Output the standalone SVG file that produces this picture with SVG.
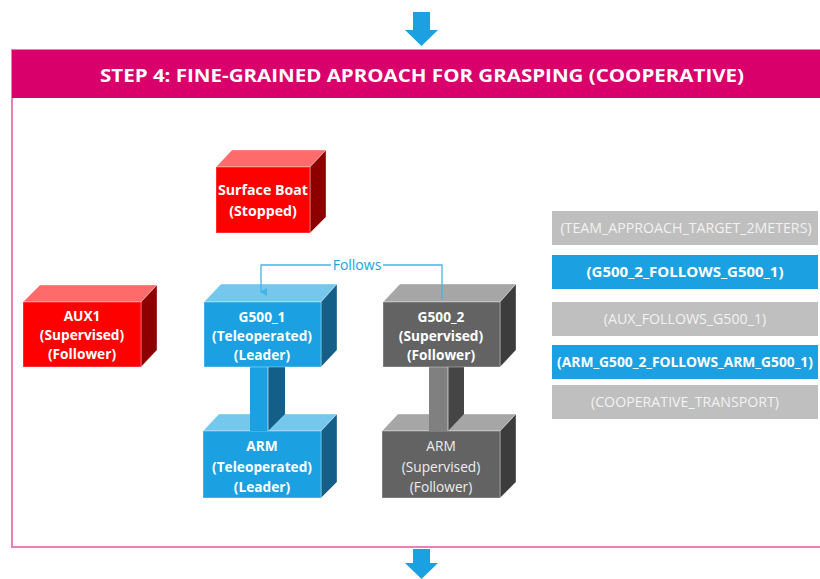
<svg xmlns="http://www.w3.org/2000/svg" width="820" height="579" viewBox="0 0 820 579">
<style>
.t{font-family:"Open Sans","Noto Sans","DejaVu Sans",sans-serif;font-weight:700;fill:#fff;text-anchor:middle;font-size:13.7px}
.tn{font-family:"Open Sans","Noto Sans","DejaVu Sans",sans-serif;font-weight:400;fill:#eeeeee;text-anchor:middle;font-size:13.7px}
.rf{fill:#ff0000}.rt{fill:#ff6b6b}.rs{fill:#8e0000}
.bf{fill:#1ba1e2}.bt{fill:#76c7ee}.bs{fill:#135f88}
.gf{fill:#636363}.gt{fill:#a6a6a6}.gs{fill:#3c3c3c}
.edge{stroke:#ffffff;stroke-opacity:0.35;stroke-width:1}
.pg{fill:#bfbfbf}.pb{fill:#1ba1e2}
.pt{font-family:"Open Sans","Noto Sans","DejaVu Sans",sans-serif;font-size:14.2px;fill:#f2f2f2;text-anchor:middle}
.ptb{font-family:"Open Sans","Noto Sans","DejaVu Sans",sans-serif;font-size:15px;font-weight:700;fill:#ffffff;text-anchor:middle}
.arrow{fill:#1ba1e2}
</style>
<defs>
<marker id="ah" markerWidth="8" markerHeight="8" refX="4" refY="6" orient="auto" markerUnits="userSpaceOnUse" viewBox="0 0 8 8">
<path d="M0,0 L8,0 L4,7 Z" fill="#41b6e6"/>
</marker>
</defs>

<!-- top arrow -->
<polygon class="arrow" points="413,12 430,12 430,30 438,30 421.5,46 405,30 413,30"/>

<!-- container -->
<g id="step4">
<rect x="12" y="50" width="812" height="497" fill="#ffffff" stroke="#ea80b8" stroke-width="2"/>
<rect x="12" y="50" width="812" height="48" fill="#d9006c"/>
<text x="422" y="82" style="font-family:'Open Sans','Noto Sans','DejaVu Sans',sans-serif;font-weight:700;font-size:18px;fill:#fff;text-anchor:middle" textLength="644" lengthAdjust="spacingAndGlyphs">STEP 4: FINE-GRAINED APROACH FOR GRASPING (COOPERATIVE)</text>
</g>

<!-- bottom arrow -->
<polygon class="arrow" points="413,549 430,549 430,563 438,563 421.5,579 405,563 413,563"/>

<!-- Surface Boat -->
<g id="surface-boat">
<polygon class="rt edge" points="216,167 232,150 326,150 310,167"/>
<polygon class="rs edge" points="310,167 326,150 326,217 310,233"/>
<rect class="rf edge" x="216" y="167" width="94" height="66"/>
<text class="t" x="263" y="195" style="font-size:14.2px">Surface Boat</text>
<text class="t" x="263" y="216" style="font-size:14.2px">(Stopped)</text>
</g>

<!-- AUX1 -->
<g id="aux1">
<polygon class="rt edge" points="23,302 40,285 157,285 141,302"/>
<polygon class="rs edge" points="141,302 157,285 157,350 141,367"/>
<rect class="rf edge" x="23" y="302" width="118" height="65"/>
<text class="t" x="82" y="321">AUX1</text>
<text class="t" x="82" y="340">(Supervised)</text>
<text class="t" x="82" y="359">(Follower)</text>
</g>

<!-- ARM leader -->
<g id="arm-leader">
<polygon class="bt edge" points="203,431 219,414 337,414 321,431"/>
<polygon class="bs edge" points="321,431 337,414 337,482 321,498"/>
<rect class="bf edge" x="203" y="431" width="118" height="67"/>
<polygon class="bf" points="250,367 268,367 268,431 250,431"/>
<polygon class="bs" points="268,367 285,367 285,414 268,431"/>
<line x1="268" y1="367" x2="268" y2="431" stroke="#ffffff" stroke-opacity="0.6"/>
<text class="t" x="262" y="451">ARM</text>
<text class="t" x="262" y="472">(Teleoperated)</text>
<text class="t" x="262" y="492">(Leader)</text>
</g>

<!-- ARM follower -->
<g id="arm-follower">
<polygon class="gt edge" points="382,431 398,414 516,414 500,431"/>
<polygon class="gs edge" points="500,431 516,414 516,482 500,498"/>
<rect class="gf edge" x="382" y="431" width="118" height="67"/>
<polygon fill="#808080" points="429,367 448,367 448,431 429,431"/>
<polygon fill="#454545" points="448,367 464,367 464,414 448,431"/>
<line x1="448" y1="367" x2="448" y2="431" stroke="#ffffff" stroke-opacity="0.6"/>
<text class="tn" x="441" y="451">ARM</text>
<text class="tn" x="441" y="472">(Supervised)</text>
<text class="tn" x="441" y="492">(Follower)</text>
</g>

<!-- G500_1 -->
<g id="g500-1">
<polygon class="bt edge" points="204,302 221,284 337,284 321,302"/>
<polygon class="bs edge" points="321,302 337,284 337,350 321,367"/>
<rect class="bf edge" x="204" y="302" width="117" height="65"/>
<text class="t" x="262" y="322">G500_1</text>
<text class="t" x="262" y="341">(Teleoperated)</text>
<text class="t" x="262" y="360">(Leader)</text>
</g>

<!-- G500_2 -->
<g id="g500-2">
<polygon class="gt edge" points="383,302 400,284 516,284 500,302"/>
<polygon class="gs edge" points="500,302 516,284 516,350 500,367"/>
<rect class="gf edge" x="383" y="302" width="117" height="65"/>
<text class="t" x="441" y="322">G500_2</text>
<text class="t" x="441" y="341">(Supervised)</text>
<text class="t" x="441" y="360">(Follower)</text>
</g>

<!-- connectors -->
<g id="connectors">
<path d="M442,300 V265 H383 M331,265 H261 V292" fill="none" stroke="#41b6e6" stroke-width="1.3" marker-end="url(#ah)"/>
<text x="357" y="270" style="font-family:'Open Sans','Noto Sans','DejaVu Sans',sans-serif;font-size:14px;fill:#1ba1e2;text-anchor:middle">Follows</text>
</g>

<!-- right panel -->
<g id="behaviours">
<g id="b1"><rect class="pg" x="552" y="211" width="266" height="34"/><text class="pt" x="686" y="233">(TEAM_APPROACH_TARGET_2METERS)</text></g>
<g id="b2"><rect class="pb" x="552" y="255" width="266" height="34"/><text class="ptb" x="685" y="277">(G500_2_FOLLOWS_G500_1)</text></g>
<g id="b3"><rect class="pg" x="552" y="302" width="266" height="34"/><text class="pt" x="685" y="324">(AUX_FOLLOWS_G500_1)</text></g>
<g id="b4"><rect class="pb" x="552" y="345" width="266" height="34"/><text class="ptb" x="685" y="367" style="font-size:13.8px">(ARM_G500_2_FOLLOWS_ARM_G500_1)</text></g>
<g id="b5"><rect class="pg" x="552" y="385" width="266" height="34"/><text class="pt" x="685" y="407">(COOPERATIVE_TRANSPORT)</text></g>
</g>
</svg>
